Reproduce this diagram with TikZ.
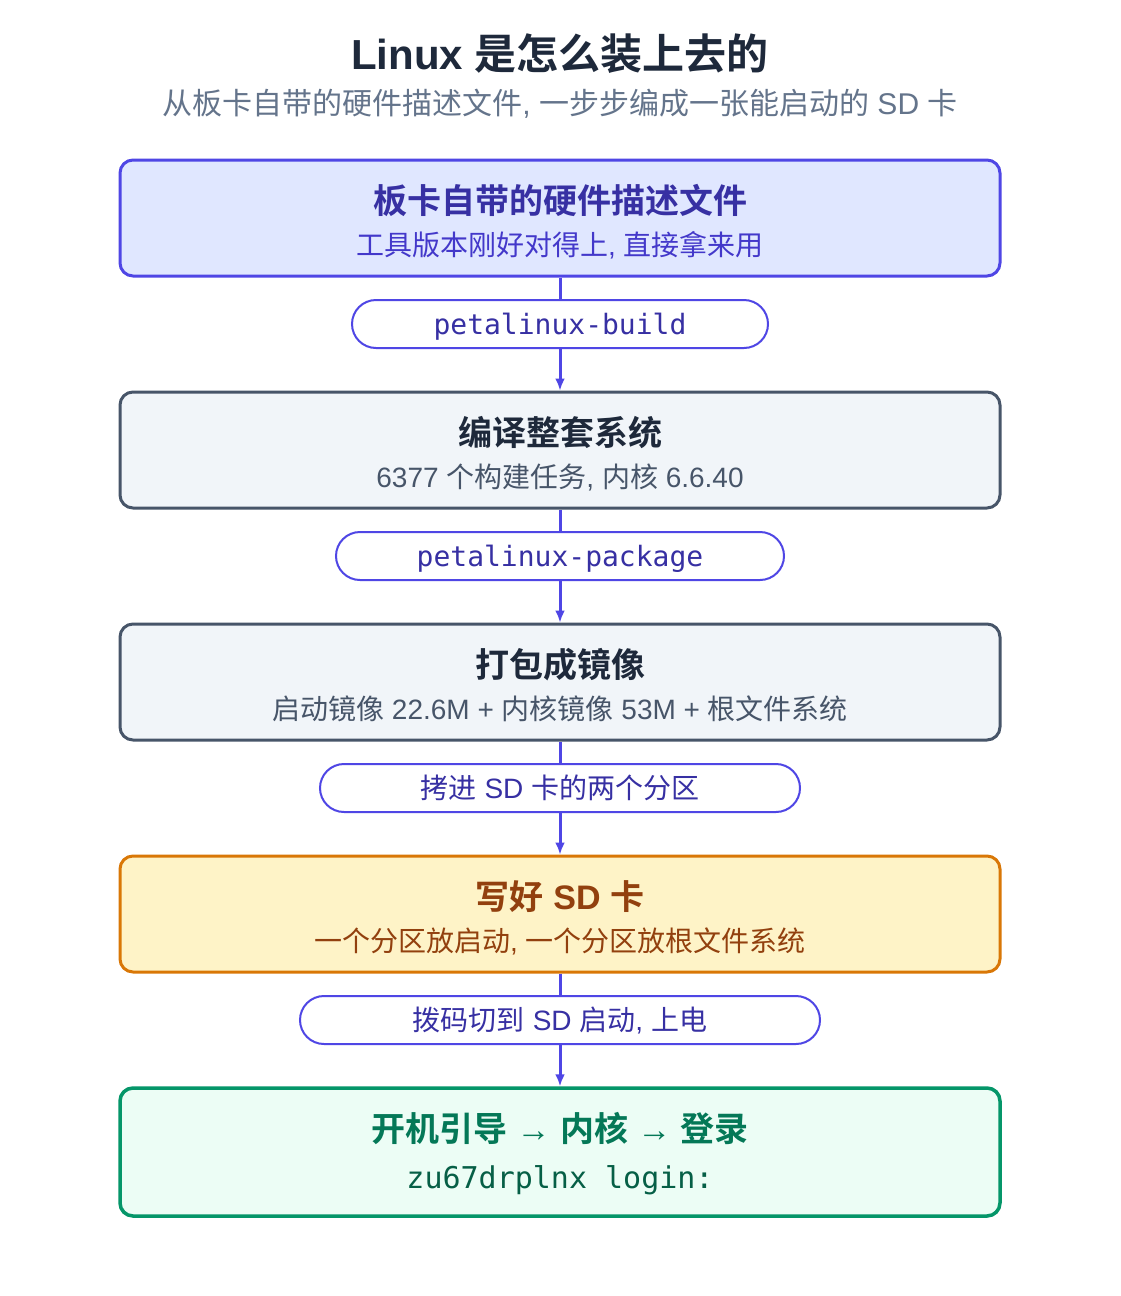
\documentclass[tikz,border=0pt]{standalone}
\usepackage{fontspec}
\setmainfont{Liberation Sans}
\newfontfamily\zhfont{Noto Sans CJK SC}[BoldFont={Noto Sans CJK SC Bold}]
\newfontfamily\monofont{DejaVu Sans Mono}
\newcommand\zh[1]{{\zhfont #1}}
\usetikzlibrary{arrows.meta}
\definecolor{ttl}{HTML}{1E293B}
\definecolor{sub}{HTML}{64748B}
\definecolor{indigo}{HTML}{4F46E5}
\definecolor{indigodk}{HTML}{3730A3}
\definecolor{indigomd}{HTML}{4338CA}
\definecolor{indigobg}{HTML}{E0E7FF}
\definecolor{slatebd}{HTML}{475569}
\definecolor{slatebg}{HTML}{F1F5F9}
\definecolor{ambbd}{HTML}{D97706}
\definecolor{ambbg}{HTML}{FEF3C7}
\definecolor{ambtx}{HTML}{92400E}
\definecolor{grnbd}{HTML}{059669}
\definecolor{grnbg}{HTML}{ECFDF5}
\definecolor{grntx}{HTML}{047857}
\definecolor{grnmono}{HTML}{065F46}
\tikzset{
  box/.style={draw, line width=3pt, rounded corners=13pt, minimum width=880pt, minimum height=116pt, inner sep=0pt},
  pill/.style={draw=indigo, fill=white, line width=2pt, rounded corners=24pt, minimum height=48pt, inner sep=0pt},
  btitle/.style={anchor=base, inner sep=0pt, font=\fontsize{34}{40}\selectfont\bfseries},
  bsub/.style={anchor=base, inner sep=0pt, font=\fontsize{28}{32}\selectfont},
  ptext/.style={anchor=base, inner sep=0pt, text=indigodk, font=\fontsize{28}{32}\selectfont},
  conn/.style={draw=indigo, line width=3pt},
  arr/.style={draw=indigo, line width=3pt, -{Latex[length=12pt,width=10pt]}},
}
\begin{document}
\begin{tikzpicture}[x=1pt,y=-1pt]
\useasboundingbox (0,0) rectangle (1120,1296);
\fill[white] (0,0) rectangle (1120,1296);

\node[anchor=base, inner sep=0pt, text=ttl, font=\fontsize{42}{48}\selectfont\bfseries] (title) at (560,69) {Linux \zh{是怎么装上去的}};
\node[anchor=base, inner sep=0pt, text=sub, font=\fontsize{30}{36}\selectfont] (subtitle) at (560,114) {\zh{从板卡自带的硬件描述文件}, \zh{一步步编成一张能启动的} SD \zh{卡}};

% boxes
\node[box, draw=indigo, fill=indigobg] (b1) at (560,218) {};
\node[box, draw=slatebd, fill=slatebg] (b2) at (560,450) {};
\node[box, draw=slatebd, fill=slatebg] (b3) at (560,682) {};
\node[box, draw=ambbd, fill=ambbg] (b4) at (560,914) {};
\node[box, draw=grnbd, fill=grnbg, line width=3.5pt, minimum height=128pt] (b5) at (560,1152) {};

% pills
\node[pill, minimum width=416pt] (p1) at (560,324) {};
\node[pill, minimum width=448pt] (p2) at (560,556) {};
\node[pill, minimum width=480pt] (p3) at (560,788) {};
\node[pill, minimum width=520pt] (p4) at (560,1020) {};

% connectors
\draw[conn] (b1.south) -- (p1.north);
\draw[arr] (p1.south) -- (b2.north);
\draw[conn] (b2.south) -- (p2.north);
\draw[arr] (p2.south) -- (b3.north);
\draw[conn] (b3.south) -- (p3.north);
\draw[arr] (p3.south) -- (b4.north);
\draw[conn] (b4.south) -- (p4.north);
\draw[arr] (p4.south) -- (b5.north);

% box texts
\node[btitle, text=indigodk] (t1) at (560,213) {\zh{板卡自带的硬件描述文件}};
\node[bsub, text=indigomd] (s1) at (560,255) {\zh{工具版本刚好对得上}, \zh{直接拿来用}};
\node[btitle, text=ttl] (t2) at (560,445) {\zh{编译整套系统}};
\node[bsub, text=slatebd] (s2) at (560,487) {6377 \zh{个构建任务}, \zh{内核} 6.6.40};
\node[btitle, text=ttl] (t3) at (560,677) {\zh{打包成镜像}};
\node[bsub, text=slatebd] (s3) at (560,719) {\zh{启动镜像} 22.6M + \zh{内核镜像} 53M + \zh{根文件系统}};
\node[btitle, text=ambtx] (t4) at (560,909) {\zh{写好} SD \zh{卡}};
\node[bsub, text=ambtx] (s4) at (560,951) {\zh{一个分区放启动}, \zh{一个分区放根文件系统}};
\node[btitle, text=grntx] (t5) at (560,1141) {\zh{开机引导} {\normalfont\fontsize{34}{40}\selectfont →} \zh{内核} {\normalfont\fontsize{34}{40}\selectfont →} \zh{登录}};
\node[anchor=base, inner sep=0pt, text=grnmono, font=\fontsize{30}{34}\selectfont\monofont] (s5) at (560,1188) {zu67drplnx login:};

% pill texts
\node[ptext, font=\fontsize{28}{32}\selectfont\monofont] (q1) at (560,334) {petalinux-build};
\node[ptext, font=\fontsize{28}{32}\selectfont\monofont] (q2) at (560,566) {petalinux-package};
\node[ptext] (q3) at (560,798) {\zh{拷进} SD \zh{卡的两个分区}};
\node[ptext] (q4) at (560,1030) {\zh{拨码切到} SD \zh{启动}, \zh{上电}};
\end{tikzpicture}
\end{document}
